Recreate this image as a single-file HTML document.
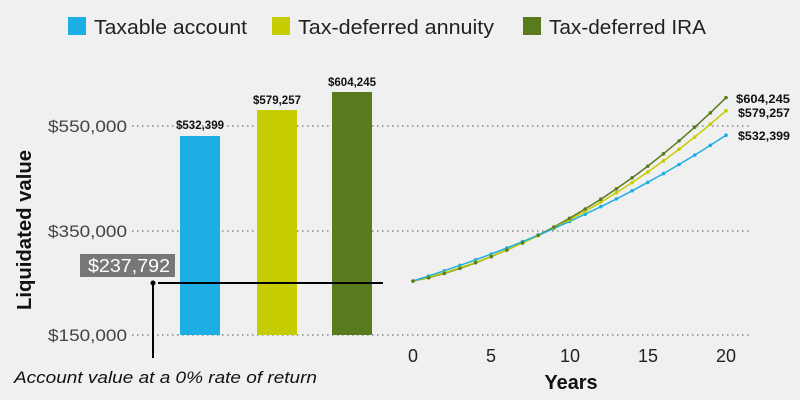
<!DOCTYPE html>
<html><head><style>
body{margin:0;background:#f0f0f0;}
svg{display:block;font-family:"Liberation Sans",sans-serif;}
</style></head><body>
<svg id="s" width="800" height="400" xmlns="http://www.w3.org/2000/svg">
<rect width="800" height="400" fill="#f0f0f0"/>
<rect x="68" y="17" width="18" height="18" fill="#1caee4"/>
<text x="94" y="34" font-size="20" fill="#222" textLength="153" lengthAdjust="spacingAndGlyphs">Taxable account</text>
<rect x="272" y="17" width="18" height="18" fill="#c5cc00"/>
<text x="298" y="34" font-size="20" fill="#222" textLength="196" lengthAdjust="spacingAndGlyphs">Tax-deferred annuity</text>
<rect x="523" y="17" width="18" height="18" fill="#5a7a1e"/>
<text x="549" y="34" font-size="20" fill="#222" textLength="157" lengthAdjust="spacingAndGlyphs">Tax-deferred IRA</text>
<g stroke="#888" stroke-width="1.5" stroke-dasharray="1.5,3.5">
<line x1="132" y1="126" x2="752" y2="126"/>
<line x1="132" y1="231" x2="752" y2="231"/>
<line x1="132" y1="335" x2="752" y2="335"/>
</g>
<g font-size="17" fill="#444" text-anchor="end">
<text x="127" y="132" textLength="79" lengthAdjust="spacingAndGlyphs">$550,000</text>
<text x="127" y="237" textLength="79" lengthAdjust="spacingAndGlyphs">$350,000</text>
<text x="127" y="341" textLength="79" lengthAdjust="spacingAndGlyphs">$150,000</text>
</g>
<text transform="translate(31,230) rotate(-90)" font-size="20" font-weight="bold" text-anchor="middle" fill="#111" textLength="160" lengthAdjust="spacingAndGlyphs">Liquidated value</text>
<rect x="180" y="136" width="40" height="199" fill="#1caee4"/>
<rect x="257" y="110" width="40" height="225" fill="#c5cc00"/>
<rect x="332" y="92" width="40" height="243" fill="#5a7a1e"/>
<g font-size="11.5" font-weight="bold" text-anchor="middle" fill="#111">
<text x="200" y="129">$532,399</text>
<text x="277" y="104">$579,257</text>
<text x="352" y="86">$604,245</text>
</g>
<rect x="80" y="254" width="95" height="23" fill="#777"/>
<text x="129" y="272" font-size="18" fill="#fff" text-anchor="middle" textLength="82" lengthAdjust="spacingAndGlyphs">$237,792</text>
<line x1="158" y1="283" x2="383" y2="283" stroke="#000" stroke-width="2"/>
<line x1="153" y1="283" x2="153" y2="358" stroke="#000" stroke-width="2"/>
<circle cx="153" cy="283" r="2.5" fill="#000"/>
<text x="14" y="383" font-size="17" font-style="italic" fill="#111" textLength="303" lengthAdjust="spacingAndGlyphs">Account value at a 0% rate of return</text>
<g font-size="18" fill="#222" text-anchor="middle">
<text x="413" y="362">0</text><text x="491" y="362">5</text><text x="570" y="362">10</text><text x="648" y="362">15</text><text x="726" y="362">20</text>
</g>
<text x="571" y="389" font-size="20" font-weight="bold" text-anchor="middle" fill="#111" textLength="53" lengthAdjust="spacingAndGlyphs">Years</text>
<g id="lines"></g>
<g font-size="12" font-weight="bold" fill="#111">
<text x="736" y="103" textLength="54" lengthAdjust="spacingAndGlyphs">$604,245</text>
<text x="738" y="117" textLength="52" lengthAdjust="spacingAndGlyphs">$579,257</text>
<text x="738" y="140" textLength="52" lengthAdjust="spacingAndGlyphs">$532,399</text>
</g>
</svg>
<script>
var g=document.getElementById('lines'),NS='http://www.w3.org/2000/svg';
var s=[['#1caee4',532399,1.0],['#c5cc00',579257,1.15],['#5a7a1e',604245,1.2]];
var v0=253350;
s.forEach(function(a){var r=Math.pow(a[1]/v0,1/20),p=[];
for(var i=0;i<=20;i++){var t=i/20;var v=v0+(a[1]-v0)*(Math.pow(r,i)-1)/(Math.pow(r,20)-1)*Math.pow(t,a[2]-1);var x=413+i*15.65,y=335-(v-150000)*0.0005225;p.push(x.toFixed(1)+','+y.toFixed(1));
var c=document.createElementNS(NS,'circle');c.setAttribute('cx',x);c.setAttribute('cy',y);c.setAttribute('r',1.8);c.setAttribute('fill',a[0]);g.appendChild(c);}
var pl=document.createElementNS(NS,'polyline');pl.setAttribute('points',p.join(' '));pl.setAttribute('fill','none');pl.setAttribute('stroke',a[0]);pl.setAttribute('stroke-width','1.5');g.insertBefore(pl,g.firstChild);});
</script>
</body></html>
